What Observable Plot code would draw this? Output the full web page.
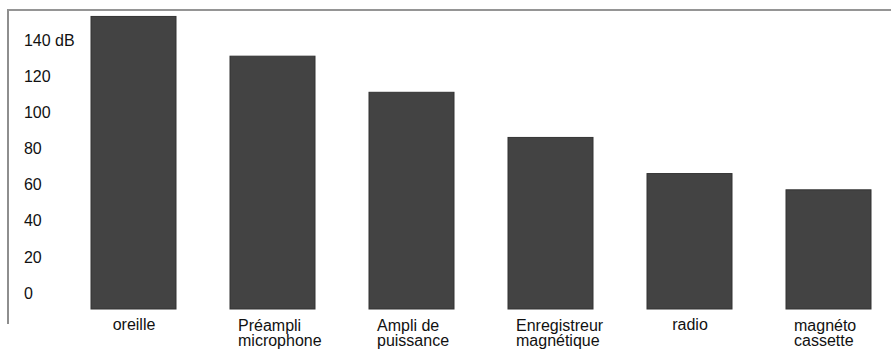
<!DOCTYPE html>
<html>
<head>
<meta charset="utf-8">
<script src="https://cdn.jsdelivr.net/npm/d3@7"></script>
<script src="https://cdn.jsdelivr.net/npm/@observablehq/plot@0.6"></script>
<style>
  html, body { margin: 0; padding: 0; background: #fff; }
  #wrap { position: relative; width: 891px; height: 351px; overflow: hidden; }
  #border { position: absolute; left: 7px; top: 9px; width: 884px; height: 313px;
            border-top: 2px solid #959595; border-left: 2px solid #8e8e8e; pointer-events: none; }
</style>
</head>
<body>
<div id="wrap"><div id="border"></div></div>
<script>
const categories = ["oreille", "Préampli\nmicrophone", "Ampli de\npuissance", "Enregistreur\nmagnétique", "radio", "magnéto\ncassette"];
const values = [162, 140, 120, 95, 75, 66];
const yTicks = [0, 20, 40, 60, 80, 100, 120, 140];
const yTickLabels = ["0", "20", "40", "60", "80", "100", "120", "140 dB"];

const data = categories.map((c, i) => ({cat: c, db: values[i]}));
const single = data.filter(d => !d.cat.includes("\n"));
const multi = data.filter(d => d.cat.includes("\n"));

const chart = Plot.plot({
  width: 891,
  height: 351,
  marginLeft: 76.4,
  marginRight: 5.8,
  marginTop: 2,
  marginBottom: 42,
  style: {fontFamily: "'Liberation Sans', Arial, sans-serif", fontSize: "16px", color: "#111", background: "transparent"},
  x: {domain: categories, paddingInner: 0.389, paddingOuter: 0.1, axis: null},
  y: {domain: [0, 170], axis: null},
  marks: [
    Plot.barY(data, {x: "cat", y: "db", fill: "#434343", stroke: "#333", strokeWidth: 1}),
    Plot.axisY(yTicks, {anchor: "left", label: null, tickSize: 0, tickPadding: 0, textAnchor: "start", dx: -53, dy: -16,
      fontSize: 16, fill: "#111", tickFormat: d => yTickLabels[yTicks.indexOf(d)]}),
    Plot.text(single, {x: "cat", text: "cat", frameAnchor: "bottom", lineAnchor: "top", textAnchor: "middle",
      dy: 9, fontSize: 16, fill: "#111"}),
    Plot.text(multi, {x: "cat", text: "cat", frameAnchor: "bottom", lineAnchor: "top", textAnchor: "start",
      dx: -35, dy: 10, lineHeight: 0.98, fontSize: 16, fill: "#111"})
  ]
});
document.getElementById("wrap").prepend(chart);
</script>
</body>
</html>
